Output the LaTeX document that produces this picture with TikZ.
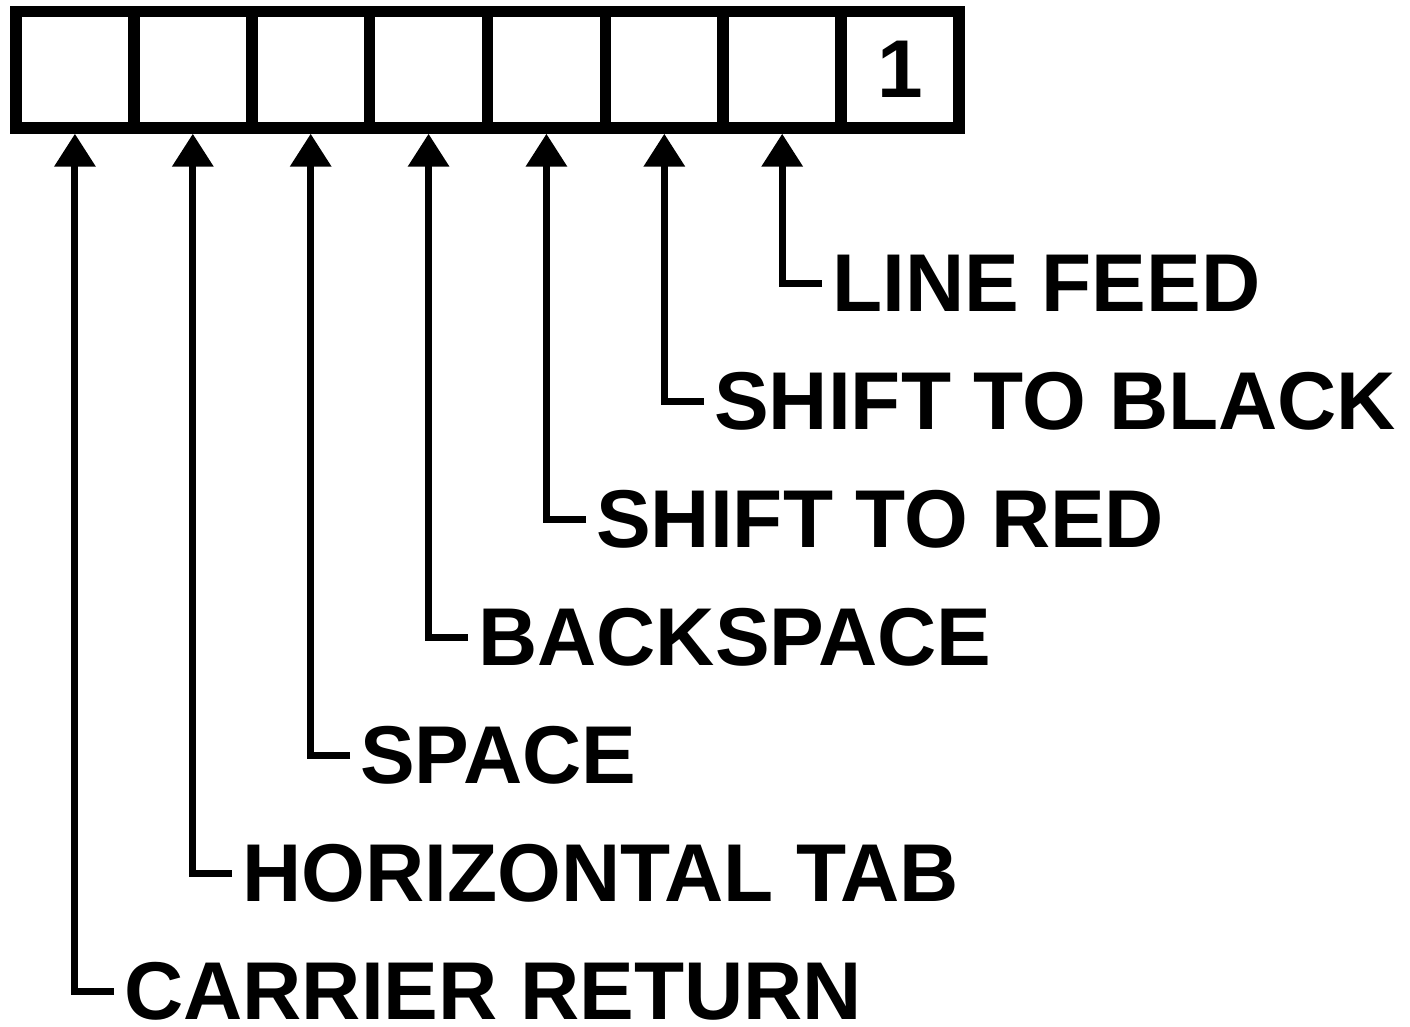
\documentclass[tikz,border=0pt]{standalone}
\usepackage{fontspec}
\setmainfont{Liberation Sans}
\usetikzlibrary{arrows.meta}
\tikzset{
  cell/.style={draw, line width=11.5pt, minimum width=117.9pt, minimum height=116.5pt, inner sep=0pt, outer sep=5.75pt, font=\fontsize{82}{90}\selectfont\bfseries},
  lbl/.style={anchor=west, inner xsep=10pt, inner ysep=0pt, text depth=0pt, font=\fontsize{82}{90}\selectfont\bfseries},
  conn/.style={line width=7pt, line join=miter, -{Triangle[length=33pt,width=40pt]}}
}
\begin{document}
\begin{tikzpicture}[x=1pt,y=-1pt]
\useasboundingbox (0,0) rectangle (1410,1027);
\foreach \i in {1,...,8}{
  \node[cell] (c\i) at ({16+117.875*(\i-0.5)},69.75) {};
}
\node[anchor=center,font=\fontsize{82}{90}\selectfont\bfseries] (one) at (c8) {1};
\node[lbl] (l7) at (822,283) {LINE FEED};
\node[lbl] (l6) at (704,401) {SHIFT TO BLACK};
\node[lbl] (l5) at (586,519) {SHIFT TO RED};
\node[lbl] (l4) at (468,637) {BACKSPACE};
\node[lbl] (l3) at (350,755) {SPACE};
\node[lbl] (l2) at (232,873) {HORIZONTAL TAB};
\node[lbl] (l1) at (114,991) {CARRIER RETURN};
\foreach \i in {1,...,7}{
  \draw[conn] (l\i.west) -| (c\i.south);
}
\end{tikzpicture}
\end{document}
